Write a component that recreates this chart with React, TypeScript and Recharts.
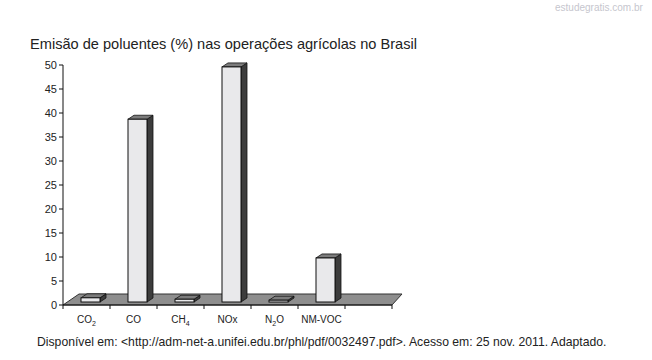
import React from 'react';
import { Bar, BarChart, ReferenceArea, XAxis, YAxis } from 'recharts';

const categories = ['CO2', 'CO', 'CH4', 'NOx', 'N2O', 'NM-VOC', ''];
const emissions = [1.5, 38.7, 1.2, 49.6, 1.0, 9.8, null];
const yTicks = [0, 5, 10, 15, 20, 25, 30, 35, 40, 45, 50];

const title = 'Emisão de poluentes (%) nas operações agrícolas no Brasil';
const source =
  'Disponível em: <http://adm-net-a.unifei.edu.br/phl/pdf/0032497.pdf>. Acesso em: 25 nov. 2011. Adaptado.';
const watermark = 'estudegratis.com.br';

const data = categories.map((name, i) => ({ name, value: emissions[i] }));

const FONT = '"Liberation Sans", Arial, sans-serif';

// 3D-ish column: light front, grey top, dark side
function Column(props: any) {
  const { x, y, width, height } = props;
  if (height == null || isNaN(height)) return null;
  const dx = 6;
  const dy = 4;
  const fx = x + 4;
  const bottom = y + height - 3;
  const top = y;
  return (
    <g>
      <polygon
        points={`${fx + width},${top} ${fx + width + dx},${top - dy} ${fx + width + dx},${bottom - dy} ${fx + width},${bottom}`}
        fill="#3c3c3c"
        stroke="#111"
        strokeWidth={0.8}
      />
      <polygon
        points={`${fx},${top} ${fx + dx},${top - dy} ${fx + width + dx},${top - dy} ${fx + width},${top}`}
        fill="#7c7c7c"
        stroke="#111"
        strokeWidth={0.8}
      />
      <rect x={fx} y={top} width={width} height={Math.max(bottom - top, 0)} fill="#e9e9eb" stroke="#111" strokeWidth={1} />
    </g>
  );
}

function Floor(props: any) {
  const { x, y, width, height } = props;
  const yb = y + height;
  return (
    <polygon
      points={`${x},${yb} ${x + width},${yb} ${x + width + 10},${yb - 11} ${x + 16},${yb - 11}`}
      fill="#8e8e8e"
      stroke="#333"
      strokeWidth={1}
    />
  );
}

function CategoryTick(props: any) {
  const { x, y, payload, index, width } = props;
  const band = width / categories.length;
  const label: string = payload.value || '';
  const parts = label.split(/(\d+)/).filter((p) => p !== '');
  const children: React.ReactNode[] = [];
  let shifted = false;
  parts.forEach((p, i) => {
    if (/^\d+$/.test(p)) {
      children.push(
        <tspan key={i} dy={3} fontSize={7}>
          {p}
        </tspan>
      );
      shifted = true;
    } else {
      children.push(
        <tspan key={i} dy={shifted ? -3 : 0}>
          {p}
        </tspan>
      );
      shifted = false;
    }
  });
  return (
    <g>
      <line x1={x - band / 2} x2={x - band / 2} y1={y} y2={y + 4} stroke="#111" />
      {index === categories.length - 1 && (
        <line x1={x + band / 2} x2={x + band / 2} y1={y} y2={y + 4} stroke="#111" />
      )}
      <text x={x} y={y + 18} textAnchor="middle" fontSize={10} fill="#222" fontFamily={FONT}>
        {children}
      </text>
    </g>
  );
}

export default function App() {
  return (
    <div style={{ position: 'absolute', left: 0, top: 0, width: 652, height: 360, background: '#fff' }}>
      <svg width={652} height={360} style={{ position: 'absolute', left: 0, top: 0 }}>
        <text x={555} y={11} fontSize={10} fill="#c6c6ce" fontFamily={FONT}>
          {watermark}
        </text>
        <text x={30} y={49} fontSize={14.6} fill="#222" fontFamily={FONT}>
          {title}
        </text>
        <text x={37} y={346} fontSize={12.2} fill="#222" fontFamily={FONT}>
          {source}
        </text>
      </svg>
      <div style={{ position: 'absolute', left: 0, top: 0 }}>
        <BarChart
          width={652}
          height={360}
          data={data}
          margin={{ top: 65, right: 260, bottom: 25, left: 23 }}
        >
          <ReferenceArea y1={0} ifOverflow="visible" shape={<Floor />} />
          <XAxis
            dataKey="name"
            height={30}
            interval={0}
            tickSize={0}
            tickMargin={0}
            axisLine={{ stroke: '#111' }}
            tick={<CategoryTick />}
          />
          <YAxis
            width={40}
            domain={[0, 50]}
            ticks={yTicks}
            interval={0}
            tickSize={4}
            tickMargin={2}
            axisLine={{ stroke: '#111' }}
            tickLine={{ stroke: '#111' }}
            tick={{ fontSize: 11, fill: '#222', fontFamily: FONT }}
          />
          <Bar dataKey="value" barSize={19} shape={<Column />} isAnimationActive={false} />
        </BarChart>
      </div>
    </div>
  );
}
